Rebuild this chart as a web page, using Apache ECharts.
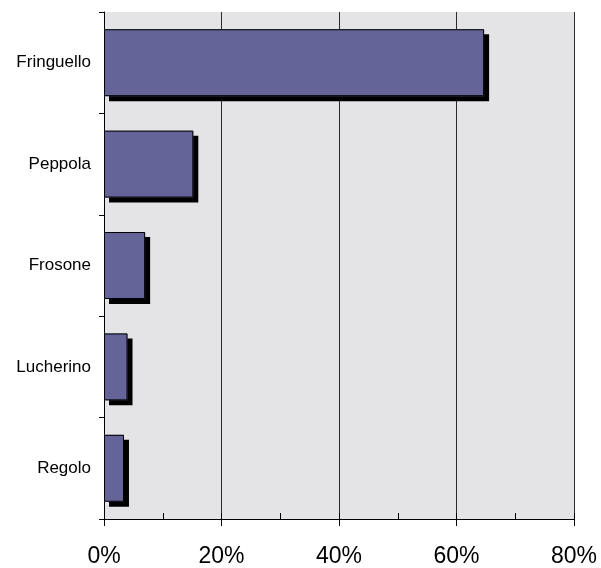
<!DOCTYPE html>
<html>
<head>
<meta charset="utf-8">
<script src="https://cdn.jsdelivr.net/npm/echarts@6/dist/echarts.min.js"></script>
<style>
html,body{margin:0;padding:0;background:#fff;}
#c{width:601px;height:568px;}
</style>
</head>
<body>
<div id="c"></div>
<script>
var categories = ['Fringuello', 'Peppola', 'Frosone', 'Lucherino', 'Regolo'];
var values = [64.7, 15.2, 7.0, 4.0, 3.4];
var xTicks = [0, 20, 40, 60, 80];

var chart = echarts.init(document.getElementById('c'), null, {renderer: 'canvas'});
chart.setOption({
  animation: false,
  backgroundColor: '#ffffff',
  grid: {
    left: 104, right: 27, top: 12, bottom: 48,
    show: true, backgroundColor: '#e4e4e6', borderWidth: 0
  },
  xAxis: [{
    type: 'value',
    min: xTicks[0], max: xTicks[xTicks.length - 1], interval: 20,
    position: 'bottom',
    axisLine: {show: true, lineStyle: {color: '#000', width: 1}},
    axisTick: {show: true, inside: false, length: 7, lineStyle: {color: '#000'}},
    axisLabel: {
      formatter: '{value}%', color: '#000', fontSize: 23,
      fontFamily: 'Liberation Sans, Arial, sans-serif', margin: 26
    },
    splitLine: {show: true, lineStyle: {color: '#2a2a2a', width: 1}}
  }, {
    type: 'value',
    min: 0, max: 80, interval: 10,
    position: 'bottom',
    axisLine: {show: false},
    axisTick: {show: true, inside: true, length: 6, lineStyle: {color: '#000'}},
    axisLabel: {show: false},
    splitLine: {show: false}
  }],
  yAxis: {
    type: 'category',
    data: categories,
    inverse: true,
    axisLine: {show: true, lineStyle: {color: '#000', width: 1}},
    axisTick: {show: true, inside: false, length: 5, lineStyle: {color: '#000'}},
    axisLabel: {
      color: '#000', fontSize: 17,
      fontFamily: 'Liberation Sans, Arial, sans-serif', margin: 13
    },
    splitLine: {show: false}
  },
  series: [{
    type: 'bar',
    xAxisIndex: 0,
    data: values,
    barWidth: '66%',
    itemStyle: {
      color: '#646499',
      borderWidth: 0,
      shadowColor: '#000',
      shadowBlur: 0,
      shadowOffsetX: 5,
      shadowOffsetY: 5
    }
  }, {
    type: 'bar',
    xAxisIndex: 0,
    data: values,
    barWidth: '66%',
    barGap: '-100%',
    silent: true,
    itemStyle: {
      color: 'rgba(0,0,0,0)',
      borderColor: '#000',
      borderWidth: 1
    }
  }]
});
</script>
</body>
</html>
